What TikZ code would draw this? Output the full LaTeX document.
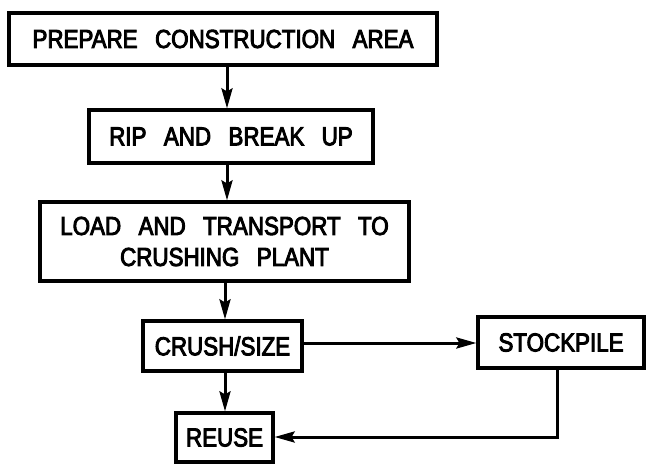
\documentclass[tikz,border=0pt]{standalone}
\usepackage{fontspec}
\setmainfont{Liberation Sans}[WordSpace=2.8,FakeStretch=0.86,FakeBold=3.5]
\usetikzlibrary{arrows.meta}
\begin{document}
\begin{tikzpicture}[x=1pt,y=-1pt,
  stepbox/.style={draw,line width=3.2pt,inner sep=0pt,font=\fontsize{26}{31}\selectfont,align=center},
  arr/.style={line width=3pt,-{Stealth[length=20pt,width=11pt,inset=3pt]}}]
\useasboundingbox (0,0) rectangle (649,469);
\node[stepbox,minimum width=428pt,minimum height=52pt] (b1) at (223,39) {PREPARE CONSTRUCTION AREA};
\node[stepbox,minimum width=284pt,minimum height=53pt] (b2) at (231,136.5) {RIP AND BREAK UP};
\node[stepbox,minimum width=369pt,minimum height=79pt] (b3) at (224.5,241.5) {LOAD AND TRANSPORT TO\\CRUSHING PLANT\hspace{18pt}};
\node[stepbox,minimum width=159pt,minimum height=50pt] (b4) at (222.5,346) {CRUSH/SIZE};
\node[stepbox,minimum width=166pt,minimum height=51pt] (b5) at (561,342.5) {STOCKPILE};
\node[stepbox,minimum width=97pt,minimum height=49pt] (b6) at (224.5,437.5) {REUSE};
\coordinate (ax) at (227,0);
\coordinate (bx) at (225,0);
\coordinate (sx) at (557,0);
\coordinate (hy) at (0,343);
\coordinate (ry) at (0,437);
\draw[arr] (b1.south -| ax) -- (b2.north -| ax);
\draw[arr] (b2.south -| ax) -- (b3.north -| ax);
\draw[arr] (b3.south -| bx) -- (b4.north -| bx);
\draw[arr] (b4.east |- hy) -- (b5.west |- hy);
\draw[arr] (b4.south -| bx) -- (b6.north -| bx);
\draw[arr] (b5.south -| sx) |- (b6.east |- ry);
\end{tikzpicture}
\end{document}
